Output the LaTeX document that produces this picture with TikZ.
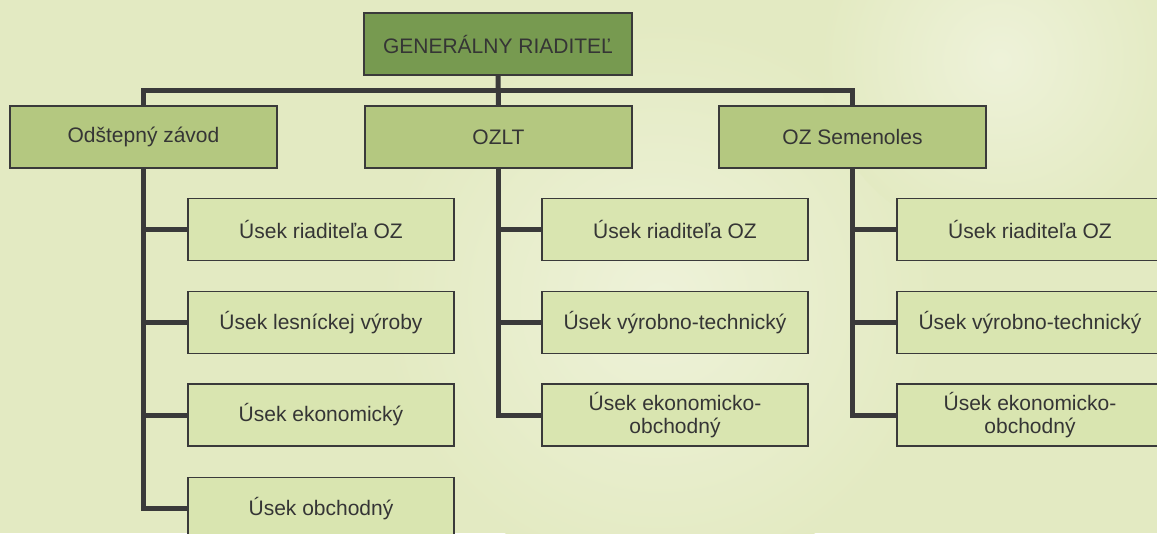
\documentclass[tikz,border=0pt]{standalone}
\usepackage{fontspec}
\setmainfont{Liberation Sans}
\definecolor{bgc}{HTML}{E3EAC2}
\definecolor{bgl}{HTML}{EEF2D9}
\definecolor{topc}{HTML}{779A50}
\definecolor{midc}{HTML}{B4C880}
\definecolor{lowc}{HTML}{D9E5B0}
\definecolor{linec}{HTML}{3A3A3A}
\definecolor{txtc}{HTML}{353535}
\pgfdeclarelayer{bg}
\pgfsetlayers{bg,main}
\tikzset{
  box/.style={draw=linec, line width=1.8pt, minimum width=266pt, minimum height=62pt,
    inner sep=0pt, text=txtc, align=center, font=\fontsize{21}{23}\selectfont},
  topbox/.style={box, fill=topc, minimum width=268pt},
  midbox/.style={box, fill=midc, minimum width=267pt},
  lowbox/.style={box, fill=lowc},
  conn/.style={draw=linec, line width=5pt}
}
\begin{document}
\begin{tikzpicture}[x=1pt,y=-1pt]
\clip (0,0) rectangle (1157,533);
\node[topbox] (top) at (498,44) {GENERÁLNY RIADITEĽ};
\node[midbox] (oz1) at (143.5,137) {Odštepný závod};
\node[midbox] (oz2) at (498.5,137) {OZLT};
\node[midbox] (oz3) at (852.5,137) {OZ Semenoles};
\node[lowbox] (a1) at (321,229.5) {Úsek riaditeľa OZ};
\node[lowbox] (a2) at (321,322.5) {Úsek lesníckej výroby};
\node[lowbox] (a3) at (321,415) {Úsek ekonomický};
\node[lowbox] (a4) at (321,508.5) {Úsek obchodný};
\node[lowbox] (b1) at (675,229.5) {Úsek riaditeľa OZ};
\node[lowbox] (b2) at (675,322.5) {Úsek výrobno-technický};
\node[lowbox] (b3) at (675,415) {Úsek ekonomicko-\\obchodný};
\node[lowbox] (c1) at (1030,229.5) {Úsek riaditeľa OZ};
\node[lowbox] (c2) at (1030,322.5) {Úsek výrobno-technický};
\node[lowbox] (c3) at (1030,415) {Úsek ekonomicko-\\obchodný};
\coordinate (bus) at (498.5,90.5);
\begin{pgfonlayer}{bg}
\fill[bgc] (0,0) rectangle (1157,533);
\shade[inner color=bgl, outer color=bgc] (660,300) circle (280);
\shade[inner color=bgl, outer color=bgc] (1000,60) circle (180);
\draw[conn] (top.south) -- (oz2.north);
\draw[conn] (oz1.north) |- (bus) -| (oz3.north);
\foreach \p/\c in {oz1/a1,oz1/a2,oz1/a3,oz1/a4,oz2/b1,oz2/b2,oz2/b3,oz3/c1,oz3/c2,oz3/c3}
  \draw[conn] (\p.south) |- (\c.west);
\end{pgfonlayer}
\end{tikzpicture}
\end{document}
